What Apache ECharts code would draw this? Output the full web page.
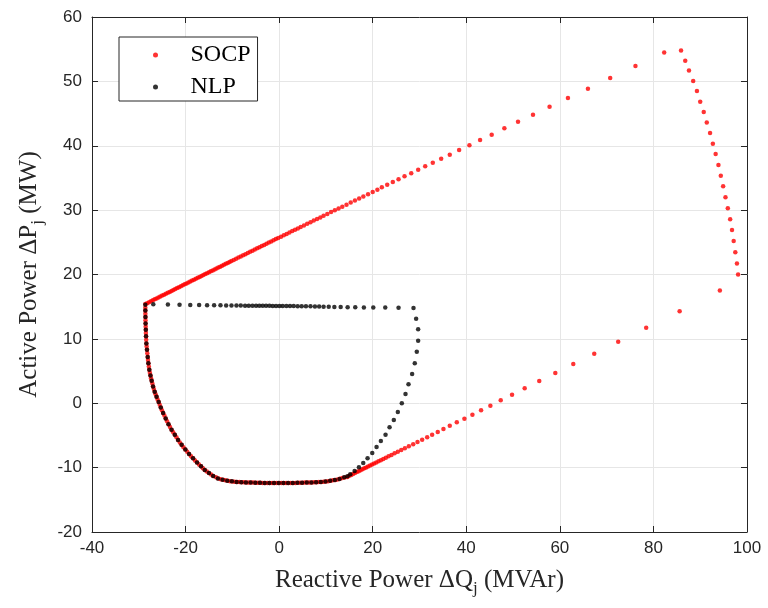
<!DOCTYPE html>
<html><head><meta charset="utf-8">
<script src="https://cdn.jsdelivr.net/npm/echarts@6/dist/echarts.min.js"></script>
<style>html,body{margin:0;padding:0;background:#fff}#c{width:768px;height:608px}</style>
</head><body><div id="c"></div>
<script>
const seriesNames = ['SOCP', 'NLP'];
const xTicks = [-40, -20, 0, 20, 40, 60, 80, 100];
const yTicks = [-20, -10, 0, 10, 20, 30, 40, 50, 60];

const socpUpper = [[-28.6,15.40],[-28.2,15.55],[-27.8,15.70],[-27.4,15.85],[-27.0,16.00],[-26.6,16.14],[-26.2,16.29],[-25.8,16.43],[-25.4,16.58],[-25.0,16.72],[-24.6,16.87],[-24.2,17.01],[-23.8,17.16],[-23.4,17.30],[-23.0,17.45],[-22.6,17.60],[-22.2,17.74],[-21.8,17.89],[-21.4,18.03],[-21.0,18.18],[-20.6,18.32],[-20.2,18.47],[-19.8,18.61],[-19.4,18.76],[-19.0,18.90],[-18.6,19.05],[-18.2,19.19],[-17.8,19.34],[-17.4,19.48],[-17.0,19.63],[-16.6,19.77],[-16.2,19.92],[-15.8,20.06],[-15.4,20.21],[-15.0,20.35],[-14.6,20.50],[-14.2,20.64],[-13.8,20.79],[-13.4,20.93],[-13.0,21.08],[-12.6,21.22],[-12.2,21.37],[-11.8,21.51],[-11.4,21.66],[-11.0,21.80],[-10.6,21.95],[-10.2,22.09],[-9.7,22.27],[-9.2,22.45],[-8.7,22.63],[-8.2,22.80],[-7.7,22.98],[-7.2,23.16],[-6.7,23.34],[-6.2,23.52],[-5.7,23.70],[-5.2,23.88],[-4.7,24.06],[-4.2,24.24],[-3.7,24.42],[-3.2,24.60],[-2.7,24.78],[-2.2,24.96],[-1.7,25.14],[-1.2,25.32],[-0.7,25.50],[-0.2,25.67],[0.4,25.88],[1.0,26.10],[1.6,26.31],[2.2,26.52],[2.8,26.74],[3.4,26.95],[4.0,27.16],[4.6,27.37],[5.3,27.62],[6.0,27.87],[6.7,28.12],[7.4,28.37],[8.1,28.62],[8.8,28.87],[9.5,29.12],[10.3,29.40],[11.1,29.69],[11.9,29.97],[12.7,30.25],[13.5,30.53],[14.4,30.85],[15.3,31.17],[16.2,31.49],[17.1,31.81],[18.0,32.13],[19.0,32.48],[20.0,32.83],[21.0,33.18],[21.95,33.55],[23.1,33.95],[24.3,34.37],[25.52,34.79],[26.8,35.25],[28.23,35.72],[29.72,36.28],[31.22,36.8],[32.84,37.37],[34.63,37.99],[36.47,38.61],[38.47,39.34],[40.67,40.07],[42.95,40.89],[45.43,41.72],[48.14,42.71],[51.06,43.74],[54.26,44.83],[57.8,46.07],[61.73,47.42],[66.0,48.86],[70.76,50.52],[76.16,52.39],[82.3,54.5]];
const socpRight = [[85.9,54.8],[86.8,53.2],[87.6,51.7],[88.5,50.06],[89.3,48.5],[90.0,46.85],[90.75,45.24],[91.4,43.6],[92.1,41.98],[92.7,40.3],[93.3,38.7],[93.9,37.0],[94.4,35.35],[94.9,33.7],[95.4,32.0],[95.9,30.3],[96.4,28.6],[96.8,26.9],[97.15,25.2],[97.5,23.45],[97.85,21.7],[98.1,20.0]];
const socpLower = [[94.2,17.5],[85.6,14.3],[78.45,11.74],[72.47,9.56],[67.35,7.70],[62.87,6.10],[59.03,4.70],[55.6,3.46],[52.48,2.32],[49.78,1.33],[47.36,0.45],[45.15,-0.38],[43.16,-1.10],[41.31,-1.78],[39.6,-2.40],[37.97,-2.96],[36.47,-3.49],[35.12,-4.0],[33.9,-4.47],[32.7,-4.88],[31.64,-5.29],[30.57,-5.66],[29.57,-6.02],[28.65,-6.38],[27.72,-6.69],[26.87,-7.0],[26.1,-7.26],[25.37,-7.52],[24.67,-7.78],[24.01,-8.02],[23.39,-8.24],[22.81,-8.45],[22.26,-8.65],[21.74,-8.84],[21.24,-9.02],[20.76,-9.19],[20.3,-9.36],[19.86,-9.52],[19.43,-9.67],[19.01,-9.82],[18.6,-9.97],[18.2,-10.11],[17.8,-10.26],[17.4,-10.40],[17.0,-10.55],[16.6,-10.69],[16.2,-10.84],[15.8,-10.98],[15.4,-11.13],[15.0,-11.28],[14.6,-11.45]];
const socpBottom = [[14.0,-11.52],[13.5,-11.62],[13.0,-11.74],[12.5,-11.84],[12.0,-11.92],[11.5,-11.98],[11.0,-12.04],[10.5,-12.10],[10.0,-12.15],[9.5,-12.19],[9.0,-12.22],[8.5,-12.25],[8.0,-12.27],[7.5,-12.29],[7.0,-12.30],[6.5,-12.31],[6.0,-12.32],[5.5,-12.33],[5.0,-12.34],[4.5,-12.35],[4.0,-12.36],[3.5,-12.37],[3.0,-12.38],[2.5,-12.38],[2.0,-12.39],[1.5,-12.39],[1.0,-12.40],[0.5,-12.40],[0.0,-12.40],[-0.5,-12.40],[-1.0,-12.40],[-1.5,-12.39],[-2.0,-12.39],[-2.5,-12.38],[-3.0,-12.38],[-3.5,-12.37],[-4.0,-12.36],[-4.5,-12.35],[-5.0,-12.34],[-5.5,-12.33],[-6.0,-12.32],[-6.5,-12.31],[-7.0,-12.30],[-7.5,-12.29],[-8.0,-12.27],[-8.5,-12.25],[-9.0,-12.22],[-9.5,-12.19],[-10.0,-12.15],[-10.5,-12.10],[-11.0,-12.04],[-11.5,-11.98],[-12.0,-11.90],[-12.5,-11.80],[-13.0,-11.67],[-13.5,-11.50]];
const socpLeft = [[-14.1,-11.3],[-14.55,-11.08],[-15.0,-10.85],[-15.45,-10.6],[-15.9,-10.35],[-16.3,-10.08],[-16.7,-9.8],[-17.13,-9.5],[-17.55,-9.2],[-17.98,-8.88],[-18.4,-8.55],[-18.83,-8.23],[-19.25,-7.9],[-19.65,-7.55],[-20.05,-7.2],[-20.45,-6.83],[-20.85,-6.45],[-21.23,-6.08],[-21.6,-5.7],[-21.95,-5.3],[-22.3,-4.9],[-22.65,-4.5],[-23.0,-4.1],[-23.33,-3.68],[-23.65,-3.25],[-23.95,-2.8],[-24.25,-2.35],[-24.53,-1.92],[-24.8,-1.5],[-25.05,-1.08],[-25.3,-0.65],[-25.53,-0.22],[-25.75,0.2],[-25.98,0.6],[-26.2,1.0],[-26.4,1.4],[-26.6,1.8],[-26.78,2.2],[-26.95,2.6],[-27.1,3.05],[-27.25,3.5],[-27.38,3.9],[-27.5,4.3],[-27.63,4.75],[-27.75,5.2],[-27.85,5.7],[-27.95,6.2],[-28.03,6.7],[-28.1,7.2],[-28.18,7.75],[-28.25,8.3],[-28.32,8.8],[-28.38,9.3],[-28.42,9.85],[-28.45,10.4],[-28.48,10.9],[-28.5,11.4],[-28.53,11.9],[-28.55,12.4],[-28.57,12.9],[-28.58,13.4],[-28.59,13.9],[-28.6,14.4],[-28.6,14.85]];

const nlpLeft = [[-28.6,15.3],[-28.6,14.4],[-28.58,13.4],[-28.55,12.4],[-28.5,11.4],[-28.45,10.4],[-28.38,9.3],[-28.25,8.3],[-28.1,7.2],[-27.95,6.2],[-27.75,5.2],[-27.5,4.3],[-27.25,3.5],[-26.95,2.6],[-26.6,1.8],[-26.2,1.0],[-25.75,0.2],[-25.3,-0.65],[-24.8,-1.5],[-24.25,-2.35],[-23.65,-3.25],[-23.0,-4.1],[-22.3,-4.9],[-21.6,-5.7],[-20.85,-6.45],[-20.05,-7.2],[-19.25,-7.9],[-18.4,-8.55],[-17.55,-9.2],[-16.7,-9.8],[-15.9,-10.35],[-15.0,-10.85],[-14.1,-11.3]];
const nlpBottom = [[-13.1,-11.7],[-12.1,-11.9],[-11.1,-12.05],[-10.1,-12.13],[-9.1,-12.22],[-8.1,-12.27],[-7.1,-12.3],[-6.1,-12.32],[-5.1,-12.34],[-4.1,-12.36],[-3.1,-12.38],[-2.1,-12.39],[-1.1,-12.4],[-0.1,-12.4],[0.9,-12.4],[1.9,-12.39],[2.9,-12.38],[3.9,-12.36],[4.9,-12.34],[5.9,-12.32],[6.9,-12.3],[7.9,-12.27],[8.9,-12.22],[9.9,-12.16],[10.9,-12.05],[11.9,-11.93],[12.9,-11.76],[13.9,-11.5],[14.6,-11.35]];
const nlpRise = [[15.2,-11.04],[16.13,-10.52],[17.05,-9.95],[17.98,-9.28],[18.9,-8.56],[19.9,-7.73],[20.82,-6.80],[21.74,-5.86],[22.74,-4.89],[23.6,-3.74],[24.51,-2.6],[25.37,-1.36],[26.22,-0.01],[27.01,1.44],[27.65,2.94],[28.42,4.54],[28.99,6.2],[29.42,8.01],[29.71,9.72],[29.71,11.49],[29.28,13.14],[28.72,14.8]];
const nlpTop = [[-26.9,15.37],[-23.78,15.33],[-21.29,15.3],[-19.0,15.28],[-17.1,15.26],[-15.4,15.24],[-13.9,15.22],[-12.54,15.21],[-11.33,15.2],[-10.19,15.19],[-9.12,15.18],[-8.2,15.17],[-7.28,15.16],[-6.49,15.16],[-5.7,15.15],[-4.93,15.15],[-4.22,15.14],[-3.51,15.14],[-2.8,15.13],[-2.08,15.13],[-1.37,15.12],[-0.66,15.12],[0.06,15.11],[0.76,15.11],[1.55,15.1],[2.32,15.1],[3.11,15.09],[3.96,15.08],[4.82,15.07],[5.73,15.06],[6.7,15.05],[7.65,15.04],[8.55,15.02],[9.5,15.0],[10.6,14.98],[11.8,14.96],[13.15,14.94],[14.64,14.92],[16.27,14.9],[18.11,14.88],[20.12,14.87],[22.68,14.86],[25.52,14.85]];

const socpData = socpUpper.concat(socpRight, socpLower, socpBottom, socpLeft);
const nlpData = nlpLeft.concat(nlpBottom, nlpRise, nlpTop);

const axisColor = '#262626';
const serif = 'Liberation Serif';
const sans = 'Liberation Sans';
const nameStyle = {
  fontFamily: serif, fontSize: 25, color: axisColor,
  rich: { s: { fontFamily: serif, fontSize: 17, color: axisColor, padding: [16, 0, 0, 0] } }
};

const chart = echarts.init(document.getElementById('c'), null, { renderer: 'canvas' });
chart.setOption({
  animation: false,
  backgroundColor: '#fff',
  grid: { left: 92, right: 21, top: 17, bottom: 76, containLabel: false },
  legend: {
    data: seriesNames, orient: 'vertical', left: 119, top: 37,
    padding: [6, 7, 2, 34], itemGap: 8, itemWidth: 60, itemHeight: 5, icon: 'circle',
    backgroundColor: '#fff', borderColor: axisColor, borderWidth: 1,
    textStyle: { fontFamily: serif, fontSize: 24, color: '#000', lineHeight: 20 }
  },
  xAxis: [{
    type: 'value', min: xTicks[0], max: xTicks[xTicks.length - 1], interval: 20,
    position: 'bottom',
    name: 'Reactive Power ΔQ{s|j} (MVAr)', nameLocation: 'middle', nameGap: 32, nameTextStyle: nameStyle,
    axisLine: { show: true, onZero: false, lineStyle: { color: axisColor, width: 1 } },
    axisTick: { show: true, inside: true, length: 6, lineStyle: { color: axisColor } },
    axisLabel: { fontFamily: sans, fontSize: 17, color: axisColor, margin: 8 },
    splitLine: { show: true, lineStyle: { color: '#e6e6e6', width: 1 } }
  }, {
    type: 'value', min: xTicks[0], max: xTicks[xTicks.length - 1], interval: 20,
    position: 'top',
    axisLine: { show: true, onZero: false, lineStyle: { color: axisColor, width: 1 } },
    axisTick: { show: true, inside: true, length: 6, lineStyle: { color: axisColor } },
    axisLabel: { show: false }, splitLine: { show: false }
  }],
  yAxis: [{
    type: 'value', min: yTicks[0], max: yTicks[yTicks.length - 1], interval: 10,
    position: 'left',
    name: 'Active Power ΔP{s|j} (MW)', nameLocation: 'middle', nameGap: 46, nameTextStyle: nameStyle,
    axisLine: { show: true, onZero: false, lineStyle: { color: axisColor, width: 1 } },
    axisTick: { show: true, inside: true, length: 6, lineStyle: { color: axisColor } },
    axisLabel: { fontFamily: sans, fontSize: 17, color: axisColor, margin: 10 },
    splitLine: { show: true, lineStyle: { color: '#e6e6e6', width: 1 } }
  }, {
    type: 'value', min: yTicks[0], max: yTicks[yTicks.length - 1], interval: 10,
    position: 'right',
    axisLine: { show: true, onZero: false, lineStyle: { color: axisColor, width: 1 } },
    axisTick: { show: true, inside: true, length: 6, lineStyle: { color: axisColor } },
    axisLabel: { show: false }, splitLine: { show: false }
  }],
  series: [{
    name: seriesNames[0], type: 'scatter', xAxisIndex: 0, yAxisIndex: 0,
    symbol: 'circle', symbolSize: 4.5, data: socpData,
    itemStyle: { color: '#ff0000' }, z: 2
  }, {
    name: seriesNames[1], type: 'scatter', xAxisIndex: 0, yAxisIndex: 0,
    symbol: 'circle', symbolSize: 4.5, data: nlpData,
    itemStyle: { color: '#000000' }, z: 3
  }]
});
</script></body></html>
